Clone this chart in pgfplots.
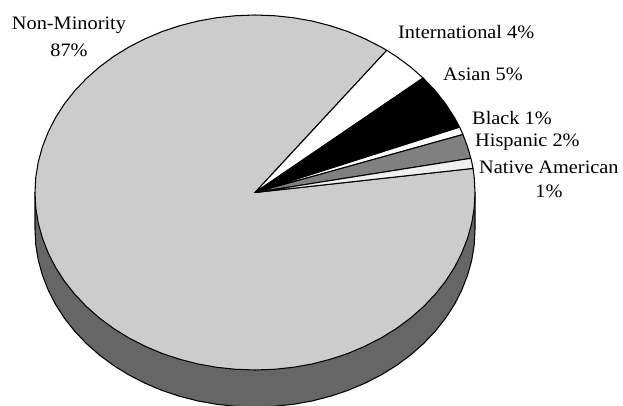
\documentclass[border=0pt]{standalone}
\usepackage{pgfplots}
\pgfplotsset{compat=1.18}
\usepackage{fontspec}
\setmainfont[FakeStretch=1.07]{Liberation Serif}
\tikzset{lbl/.style={font=\fontsize{19}{19}\selectfont, inner sep=0pt, text=black}}
\begin{document}
\begin{tikzpicture}
\useasboundingbox (0,0) rectangle (623pt,405pt);
\begin{axis}[
  at={(0,0)}, anchor=south west,
  scale only axis, width=623pt, height=405pt,
  xmin=0, xmax=623, ymin=0, ymax=405, y dir=reverse,
  axis lines=none, clip=true,
  every axis plot/.append style={draw=black, line width=1.05pt, line join=round, mark=none}
]
% side wall
\addplot[fill=black!60] coordinates {
(35,192.5)(35,229.5)(35.8,245)(38.3,260.3)(42.5,275.4)(48.3,290.2)(55.6,304.5)(64.5,318.3)(74.8,331.3)(86.5,343.6)(99.4,355)(113.6,365.5)(128.8,374.9)(145,383.2)(162,390.4)(179.8,396.3)(198.1,401)(216.8,404.3)(235.8,406.3)(255,407)
(274.2,406.3)(293.2,404.3)(311.9,401)(330.2,396.3)(348,390.4)(365,383.2)(381.2,374.9)(396.4,365.5)(410.6,355)(423.5,343.6)(435.2,331.3)(445.5,318.3)(454.4,304.5)(461.7,290.2)(467.5,275.4)(471.7,260.3)(474.2,245)(475,229.5)(475,192.5)
} --cycle;
% Non-Minority 87%
\addplot[fill=black!20] coordinates {
(255,192.5)(386.8,50.3)(381.2,47.1)(365,38.8)(348,31.6)(330.2,25.7)(311.9,21)(293.2,17.7)(274.2,15.7)(255,15)
(235.8,15.7)(216.8,17.7)(198.1,21)(179.8,25.7)(162,31.6)(145,38.8)(128.8,47.1)(113.6,56.5)(99.4,67)(86.5,78.4)(74.8,90.7)(64.5,103.7)(55.6,117.5)(48.3,131.8)(42.5,146.6)(38.3,161.7)(35.8,177)(35,192.5)
(35.8,208)(38.3,223.3)(42.5,238.4)(48.3,253.2)(55.6,267.5)(64.5,281.3)(74.8,294.3)(86.5,306.6)(99.4,318)(113.6,328.5)(128.8,337.9)(145,346.2)(162,353.4)(179.8,359.3)(198.1,364)(216.8,367.3)(235.8,369.3)(255,370)
(274.2,369.3)(293.2,367.3)(311.9,364)(330.2,359.3)(348,353.4)(365,346.2)(381.2,337.9)(396.4,328.5)(410.6,318)(423.5,306.6)(435.2,294.3)(445.5,281.3)(454.4,267.5)(461.7,253.2)(467.5,238.4)(471.7,223.3)(474.2,208)(475,192.5)(474.2,177)(473,168.4)
} --cycle;
% International 4%
\addplot[fill=white] coordinates {
(255,192.5)(423.1,78)(410.6,67)(396.4,56.5)(386.8,50.3)
} --cycle;
% Asian 5%
\addplot[fill=black] coordinates {
(255,192.5)(459.6,127.2)(454.4,117.5)(445.5,103.7)(435.2,90.7)(423.1,78)
} --cycle;
% Black 1%
\addplot[fill=white] coordinates {
(255,192.5)(462.9,134.5)(461.7,131.8)(459.6,127.2)
} --cycle;
% Hispanic 2%
\addplot[fill=black!50] coordinates {
(255,192.5)(470.8,158.3)(467.5,146.6)(462.9,134.5)
} --cycle;
% Native American 1%
\addplot[fill=black!6] coordinates {
(255,192.5)(473,168.4)(471.7,161.7)(470.8,158.3)
} --cycle;
\node[lbl, anchor=base] at (axis cs:69,29.5) {Non-Minority};
\node[lbl, anchor=base] at (axis cs:69,56) {87\%};
\node[lbl, anchor=base west] at (axis cs:398,38) {International 4\%};
\node[lbl, anchor=base west] at (axis cs:443,80) {Asian 5\%};
\node[lbl, anchor=base west] at (axis cs:472,124) {Black 1\%};
\node[lbl, anchor=base west] at (axis cs:475,146) {Hispanic 2\%};
\node[lbl, anchor=base west] at (axis cs:479,173) {Native American};
\node[lbl, anchor=base] at (axis cs:549,197) {1\%};
\end{axis}
\end{tikzpicture}
\end{document}
